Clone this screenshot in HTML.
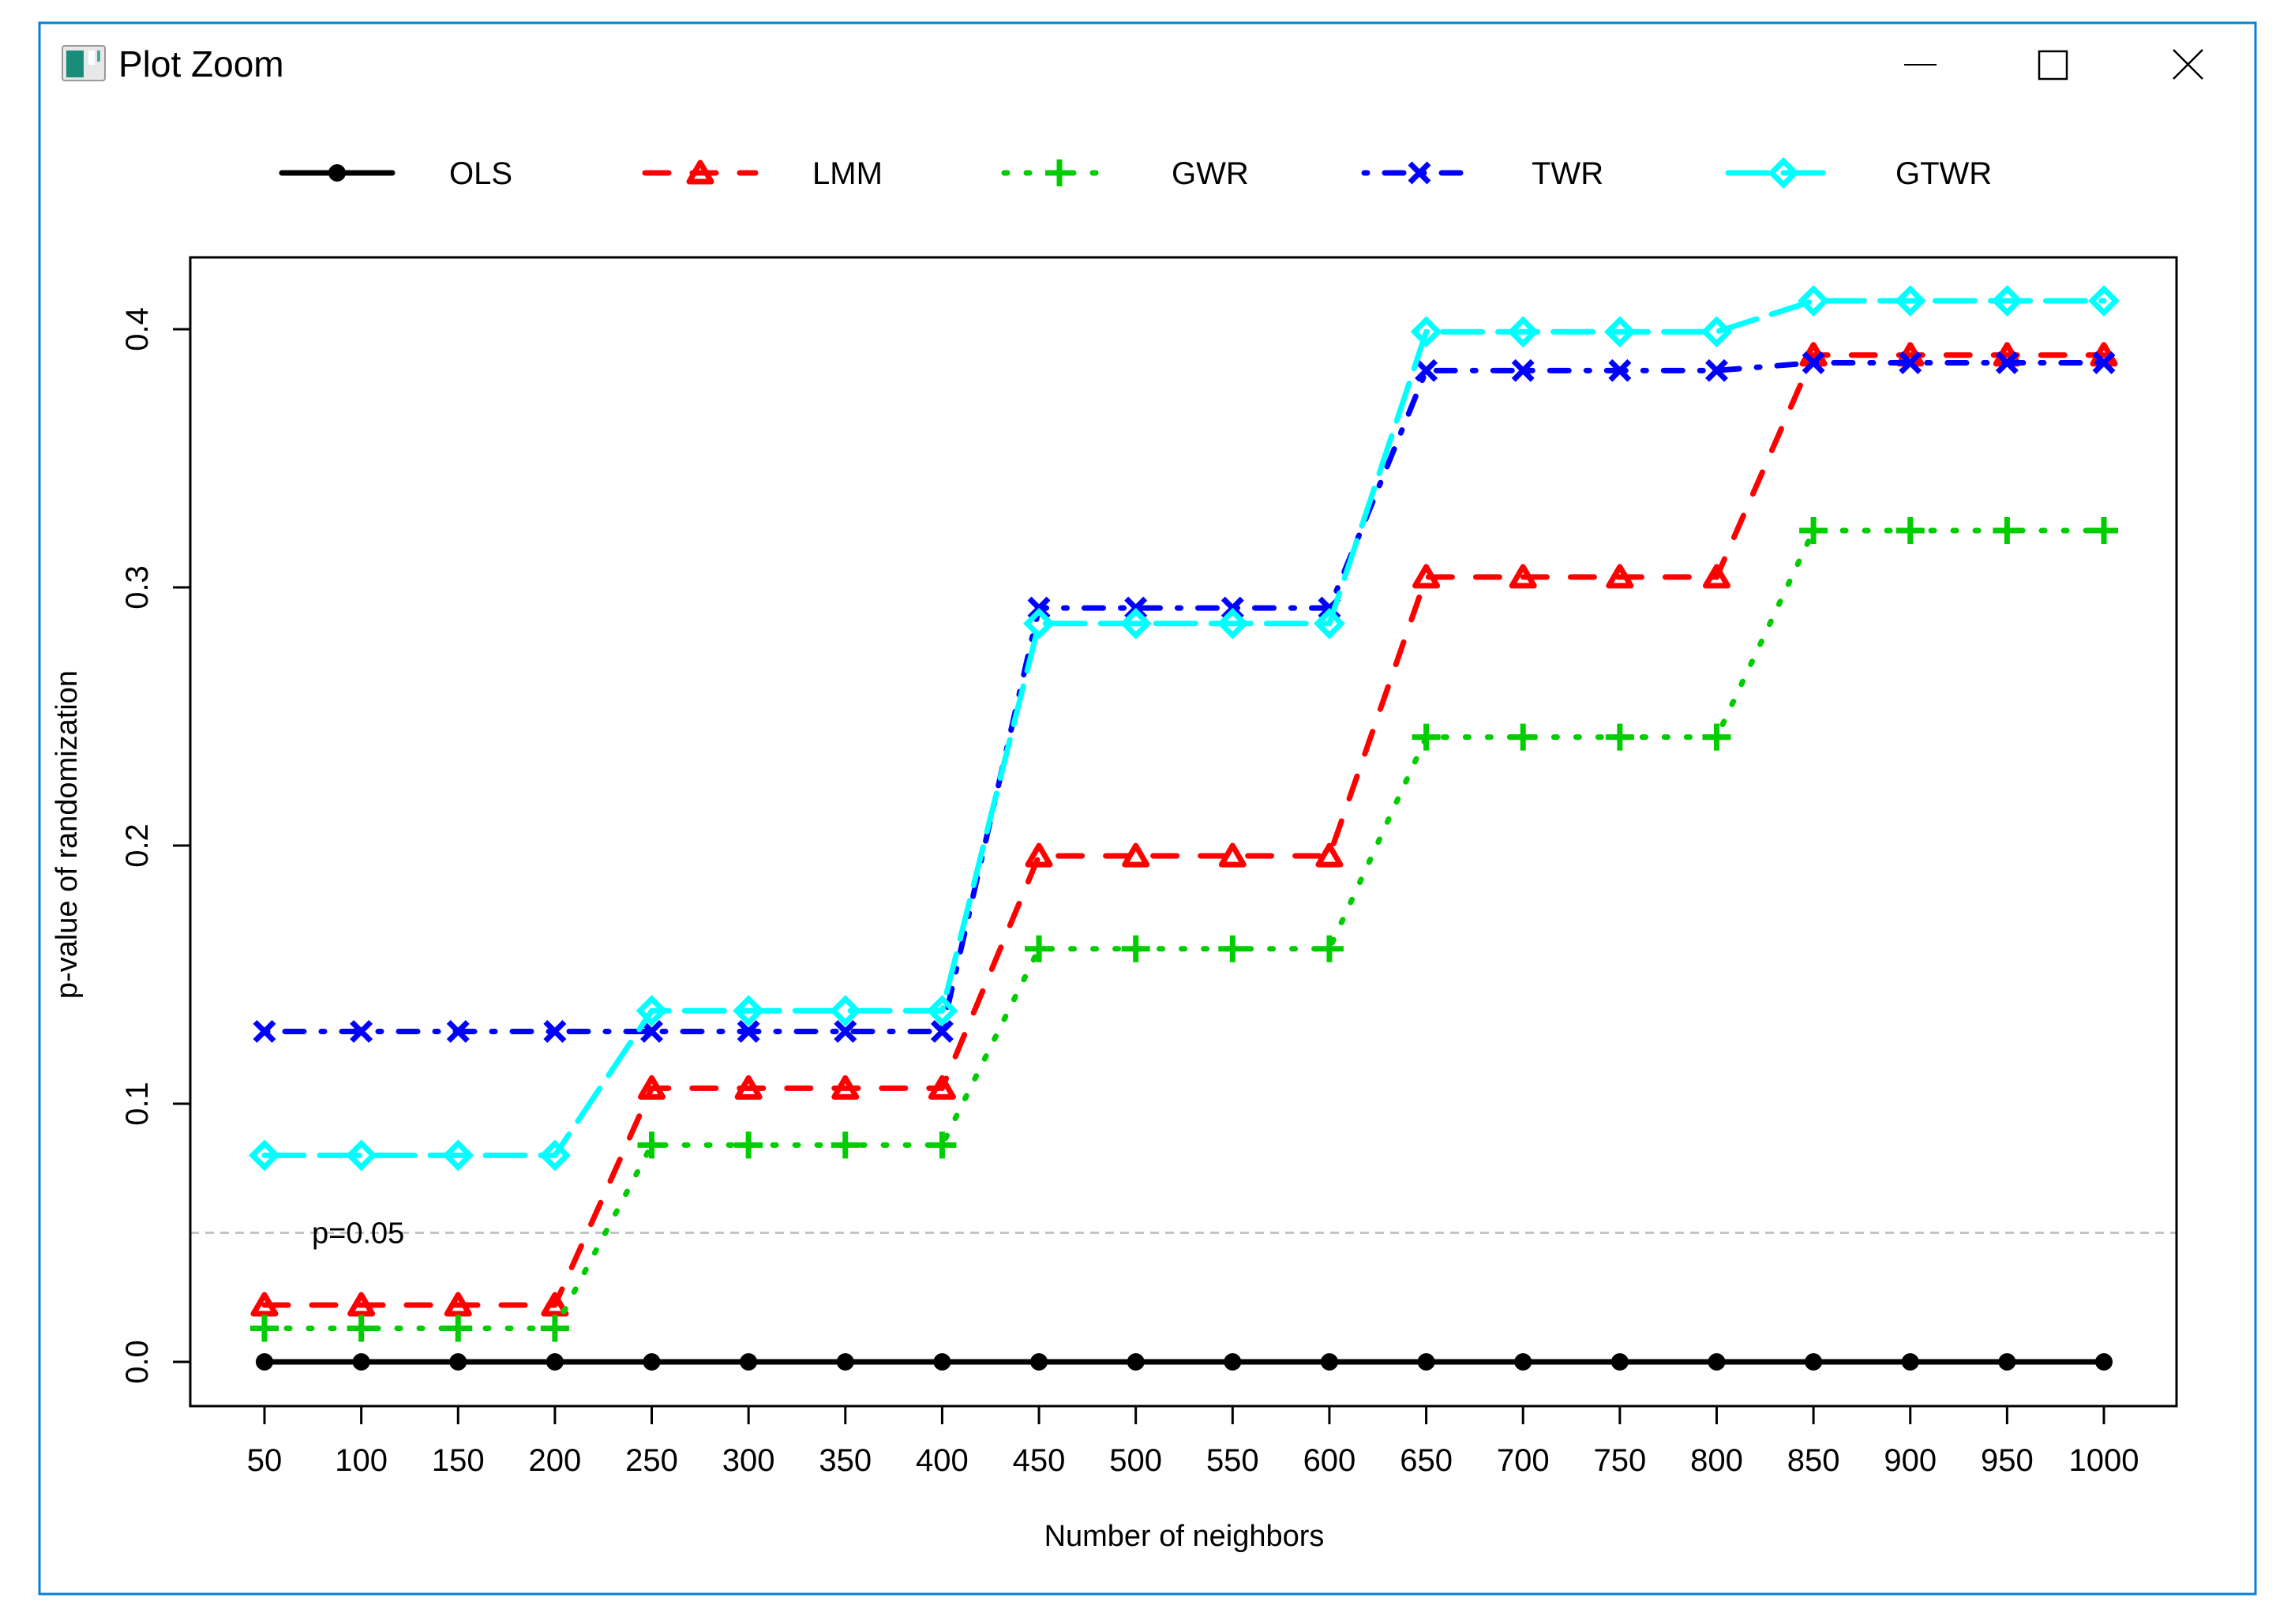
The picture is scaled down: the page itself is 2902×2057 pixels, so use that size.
<!DOCTYPE html>
<html><head><meta charset="utf-8"><style>
html,body{margin:0;padding:0;background:#fff;}
svg{display:block;font-family:"Liberation Sans",Arial,sans-serif;}
</style></head><body>
<svg id="chart" width="2902" height="2057" viewBox="0 0 2902 2057" xmlns="http://www.w3.org/2000/svg">
<rect x="0" y="0" width="2902" height="2057" fill="#fff"/>
<rect x="50" y="29" width="2807" height="1990" fill="#fff" stroke="#0a7fd8" stroke-width="3"/>
<g>
<rect x="79" y="58" width="54" height="44" rx="3" fill="#e8e8e8" stroke="#999" stroke-width="2"/>
<rect x="84" y="64" width="22" height="34" fill="#1a8c7a"/>
<rect x="112" y="64" width="8" height="18" fill="#fff"/>
<rect x="123" y="64" width="4" height="14" fill="#4a9"/>
</g>
<text x="150" y="97" font-size="46" fill="#000">Plot Zoom</text>
<line x1="2412" y1="82" x2="2453" y2="82" stroke="#000" stroke-width="2"/>
<rect x="2583" y="65" width="35" height="35" fill="none" stroke="#000" stroke-width="2.5"/>
<g stroke="#000" stroke-width="2.5">
<line x1="2753" y1="63" x2="2790" y2="100"/><line x1="2790" y1="63" x2="2753" y2="100"/>
</g>
<g id="legend"></g>
<g id="plot"></g>
</svg>
<script>
const categories=[50,100,150,200,250,300,350,400,450,500,550,600,650,700,750,800,850,900,950,1000];
const olsValues=[0,0,0,0,0,0,0,0,0,0,0,0,0,0,0,0,0,0,0,0];
const lmmValues=[0.022,0.022,0.022,0.022,0.106,0.106,0.106,0.106,0.196,0.196,0.196,0.196,0.304,0.304,0.304,0.304,0.390,0.390,0.390,0.390];
const gwrValues=[0.013,0.013,0.013,0.013,0.084,0.084,0.084,0.084,0.160,0.160,0.160,0.160,0.242,0.242,0.242,0.242,0.322,0.322,0.322,0.322];
const twrValues=[0.128,0.128,0.128,0.128,0.128,0.128,0.128,0.128,0.292,0.292,0.292,0.292,0.384,0.384,0.384,0.384,0.387,0.387,0.387,0.387];
const gtwrValues=[0.080,0.080,0.080,0.080,0.136,0.136,0.136,0.136,0.286,0.286,0.286,0.286,0.399,0.399,0.399,0.399,0.411,0.411,0.411,0.411];
const yTicks=[0,0.1,0.2,0.3,0.4];
const yTickLabels=["0.0","0.1","0.2","0.3","0.4"];
const refValue=0.05;
const refLabel="p=0.05";

const NS="http://www.w3.org/2000/svg";
const L=241,T=326,R=2757,B=1781;
const x50=335,x1000=2665;
const y0=1725,y04=417;
function xs(v){return x50+(v-50)/950*(x1000-x50);}
function ys(v){return y0+(y04-y0)*v/0.4;}
function mk(tag,attrs,parent){const e=document.createElementNS(NS,tag);for(const k in attrs)e.setAttribute(k,attrs[k]);parent.appendChild(e);return e;}
const plot=document.getElementById('plot');
const legend=document.getElementById('legend');

const ref=mk('line',{x1:L,x2:R,y1:ys(refValue),y2:ys(refValue),stroke:'#c4c4c4','stroke-width':3,'stroke-dasharray':'11 8'},plot);


const refT=mk('text',{x:xs(50)+60,y:ys(refValue)+13,'font-size':38,fill:'#000'},plot);
refT.textContent=refLabel;



const box=mk('rect',{x:L,y:T,width:R-L,height:B-T,fill:'none',stroke:'#000','stroke-width':3},plot);



categories.forEach(c=>{
  const t=mk('line',{x1:xs(c),x2:xs(c),y1:B,y2:B+23,stroke:'#000','stroke-width':3},plot);
  
  
  const lb=mk('text',{x:xs(c),y:1863,'font-size':40,'text-anchor':'middle',fill:'#000'},plot);
  lb.textContent=String(c);
  
  
});
yTicks.forEach((v,i)=>{
  const t=mk('line',{x1:L,x2:L-22,y1:ys(v),y2:ys(v),stroke:'#000','stroke-width':3},plot);
  
  
  const lb=mk('text',{x:0,y:0,'font-size':40,'text-anchor':'middle',fill:'#000',transform:`translate(187,${ys(v)}) rotate(-90)`},plot);
  lb.textContent=yTickLabels[i];
  
  
});
const xt=mk('text',{x:1500,y:1958,'font-size':38,'text-anchor':'middle',fill:'#000'},plot);
xt.textContent='Number of neighbors';


const yt=mk('text',{x:0,y:0,'font-size':38,'text-anchor':'middle',fill:'#000',transform:'translate(97,1057) rotate(-90)'},plot);
yt.textContent='p-value of randomization';



function marker(g,type,x,y,col){
  const sw=7;
  if(type==='dot'){mk('circle',{cx:x,cy:y,r:11,fill:col},g);}
  else if(type==='tri'){mk('polygon',{points:`${x},${y-13} ${x-14},${y+11} ${x+14},${y+11}`,fill:'none',stroke:col,'stroke-width':sw,'stroke-linejoin':'round'},g);}
  else if(type==='plus'){mk('path',{d:`M${x-18},${y}H${x+18}M${x},${y-17}V${y+17}`,stroke:col,'stroke-width':sw},g);}
  else if(type==='x'){mk('path',{d:`M${x-12},${y-12}L${x+12},${y+12}M${x+12},${y-12}L${x-12},${y+12}`,stroke:col,'stroke-width':sw},g);}
  else if(type==='dia'){mk('polygon',{points:`${x},${y-15} ${x+15},${y} ${x},${y+15} ${x-15},${y}`,fill:'none',stroke:col,'stroke-width':sw},g);}
}
const series=[
 {name:'OLS',vals:olsValues,col:'#000000',dash:'',m:'dot',lx:357},
 {name:'LMM',vals:lmmValues,col:'#ff0000',dash:'30 30',m:'tri',lx:817},
 {name:'GWR',vals:gwrValues,col:'#00cd00',dash:'4 24',m:'plus',lx:1272},
 {name:'TWR',vals:twrValues,col:'#0000ff',dash:'4 22 24 22',m:'x',lx:1728},
 {name:'GTWR',vals:gtwrValues,col:'#00ffff',dash:'50 20',m:'dia',lx:2189}
];
series.forEach(s=>{
  const g=mk('g',{},plot);
  
  
  const pts=categories.map((c,i)=>xs(c)+','+ys(s.vals[i])).join(' ');
  const pl=mk('polyline',{points:pts,fill:'none',stroke:s.col,'stroke-width':7,'stroke-linecap':'round','stroke-linejoin':'round'},g);
  if(s.dash)pl.setAttribute('stroke-dasharray',s.dash);
  
  
  categories.forEach((c,i)=>marker(g,s.m,xs(c),ys(s.vals[i]),s.col));
  const lg=mk('g',{},legend);
  
  
  const ly=219;
  const ll=mk('line',{x1:s.lx,x2:s.lx+140,y1:ly,y2:ly,stroke:s.col,'stroke-width':7,'stroke-linecap':'round'},lg);
  if(s.dash)ll.setAttribute('stroke-dasharray',s.dash);
  marker(lg,s.m,s.lx+70,ly,s.col);
  const lt=mk('text',{x:s.lx+212,y:ly+14,'font-size':40,fill:'#000'},lg);
  lt.textContent=s.name;
});
</script>
</body></html>
